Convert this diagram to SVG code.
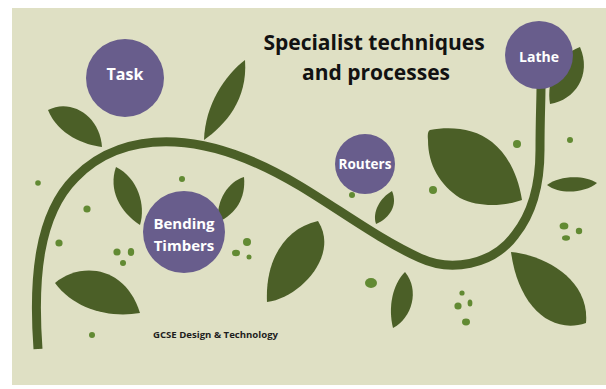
<svg xmlns="http://www.w3.org/2000/svg" width="606" height="389" viewBox="0 0 606 389">
  <style>
    .leaf { fill: #4b5f27; }
    .dot { fill: #628a33; }
    .bubble { fill: #685d8c; }
    .label { font-family: "Open Sans", "Liberation Sans", sans-serif; font-weight: 700; fill: #ffffff; text-anchor: middle; }
    .title { font-family: "Open Sans", "Liberation Sans", sans-serif; font-weight: 700; fill: #121212; text-anchor: middle; }
    .footer { font-family: "Open Sans", "Liberation Sans", sans-serif; font-weight: 700; fill: #1e1e1e; }
  </style>

  <!-- page -->
  <rect x="0" y="0" width="606" height="389" fill="#ffffff"/>
  <rect x="12" y="8" width="594" height="377" fill="#dfe0c4"/>

  <!-- main vine -->
  <g id="vine">
    <path d="M38,349 C33,280 38,215 75,178 C100,152 135,140 175,142 C215,144 260,162 300,186 C340,210 380,240 420,258 C450,272 492,266 515,235 C535,210 540,180 540,150 C540,120 541,100 541,88"
          fill="none" stroke="#4b5f27" stroke-width="9" stroke-linecap="butt"/>
  </g>

  <!-- leaves -->
  <g id="leaves">
    <path class="leaf" d="M48,110 C70,98 100,115 102,147 C85,145 58,135 48,110 Z"/>
    <path class="leaf" d="M245,60 C225,75 205,105 204,140 C225,125 248,100 245,60 Z"/>
    <path class="leaf" d="M116,167 C108,190 120,212 140,225 C146,205 138,178 116,167 Z"/>
    <path class="leaf" d="M244,177 C228,182 216,200 218,222 C236,214 246,198 244,177 Z"/>
    <path class="leaf" d="M318,221 C285,228 265,260 267,302 C300,298 340,255 318,221 Z"/>
    <path class="leaf" d="M55,283 C80,262 125,265 140,313 C110,318 75,310 55,283 Z"/>
    <path class="leaf" d="M392,191 C380,198 372,212 376,224 C390,218 398,205 392,191 Z"/>
    <path class="leaf" d="M430,130 C450,126 475,128 492,142 C508,155 518,175 522,200 C505,206 480,208 460,198 C440,185 428,165 428,140 Q427,131 430,130 Z"/>
    <path class="leaf" d="M580,47 C558,55 546,80 550,104 C575,100 592,75 580,47 Z"/>
    <path class="leaf" d="M547,185 C560,175 585,175 597,183 C585,193 560,195 547,185 Z"/>
    <path class="leaf" d="M405,272 C392,285 388,308 393,328 C412,318 420,290 405,272 Z"/>
    <path class="leaf" d="M511,252 C545,255 590,280 586,323 C550,335 518,305 511,252 Z"/>
  </g>

  <!-- seed dots -->
  <g id="dots">
    <circle class="dot" cx="38" cy="183" r="2.8"/>
    <circle class="dot" cx="182" cy="179" r="3"/>
    <circle class="dot" cx="87" cy="209" r="3.6"/>
    <circle class="dot" cx="59" cy="243" r="3.6"/>
    <circle class="dot" cx="117" cy="252" r="3.6"/>
    <ellipse class="dot" cx="131" cy="252" rx="3.2" ry="4"/>
    <circle class="dot" cx="123" cy="263" r="3"/>
    <circle class="dot" cx="92" cy="335" r="3"/>
    <circle class="dot" cx="247" cy="242" r="4"/>
    <ellipse class="dot" cx="236" cy="253" rx="4" ry="3.2"/>
    <circle class="dot" cx="249" cy="257" r="2.5"/>
    <circle class="dot" cx="352" cy="195" r="3"/>
    <circle class="dot" cx="433" cy="190" r="4"/>
    <circle class="dot" cx="517" cy="144" r="4"/>
    <circle class="dot" cx="570" cy="140" r="3"/>
    <ellipse class="dot" cx="371" cy="283" rx="6" ry="5"/>
    <circle class="dot" cx="462" cy="293" r="2.6"/>
    <circle class="dot" cx="458" cy="306" r="3.6"/>
    <ellipse class="dot" cx="470" cy="303" rx="2.4" ry="3.6"/>
    <ellipse class="dot" cx="466" cy="322" rx="4" ry="3.4"/>
    <ellipse class="dot" cx="564" cy="226" rx="4.4" ry="3.6"/>
    <circle class="dot" cx="579" cy="231" r="3.2"/>
    <ellipse class="dot" cx="566" cy="238" rx="4" ry="2.8"/>
  </g>

  <!-- heading -->
  <g id="title">
    <text class="title" x="374" y="50" font-size="21">Specialist techniques</text>
    <text class="title" x="376" y="80" font-size="21">and processes</text>
  </g>

  <!-- topic bubbles -->
  <g id="task">
    <circle class="bubble" cx="125" cy="78" r="39"/>
    <text class="label" x="125" y="80" font-size="16">Task</text>
  </g>
  <g id="lathe">
    <circle class="bubble" cx="539" cy="55" r="34"/>
    <text class="label" x="539" y="62" font-size="14">Lathe</text>
  </g>
  <g id="routers">
    <circle class="bubble" cx="365" cy="164" r="30"/>
    <text class="label" x="365" y="169" font-size="13.5">Routers</text>
  </g>
  <g id="bending-timbers">
    <circle class="bubble" cx="184" cy="232" r="41"/>
    <text class="label" x="184" y="229" font-size="15">Bending</text>
    <text class="label" x="184" y="251" font-size="15">Timbers</text>
  </g>

  <!-- course line -->
  <g id="footer">
    <text class="footer" x="153" y="338" font-size="9.6">GCSE Design &amp; Technology</text>
  </g>
</svg>
